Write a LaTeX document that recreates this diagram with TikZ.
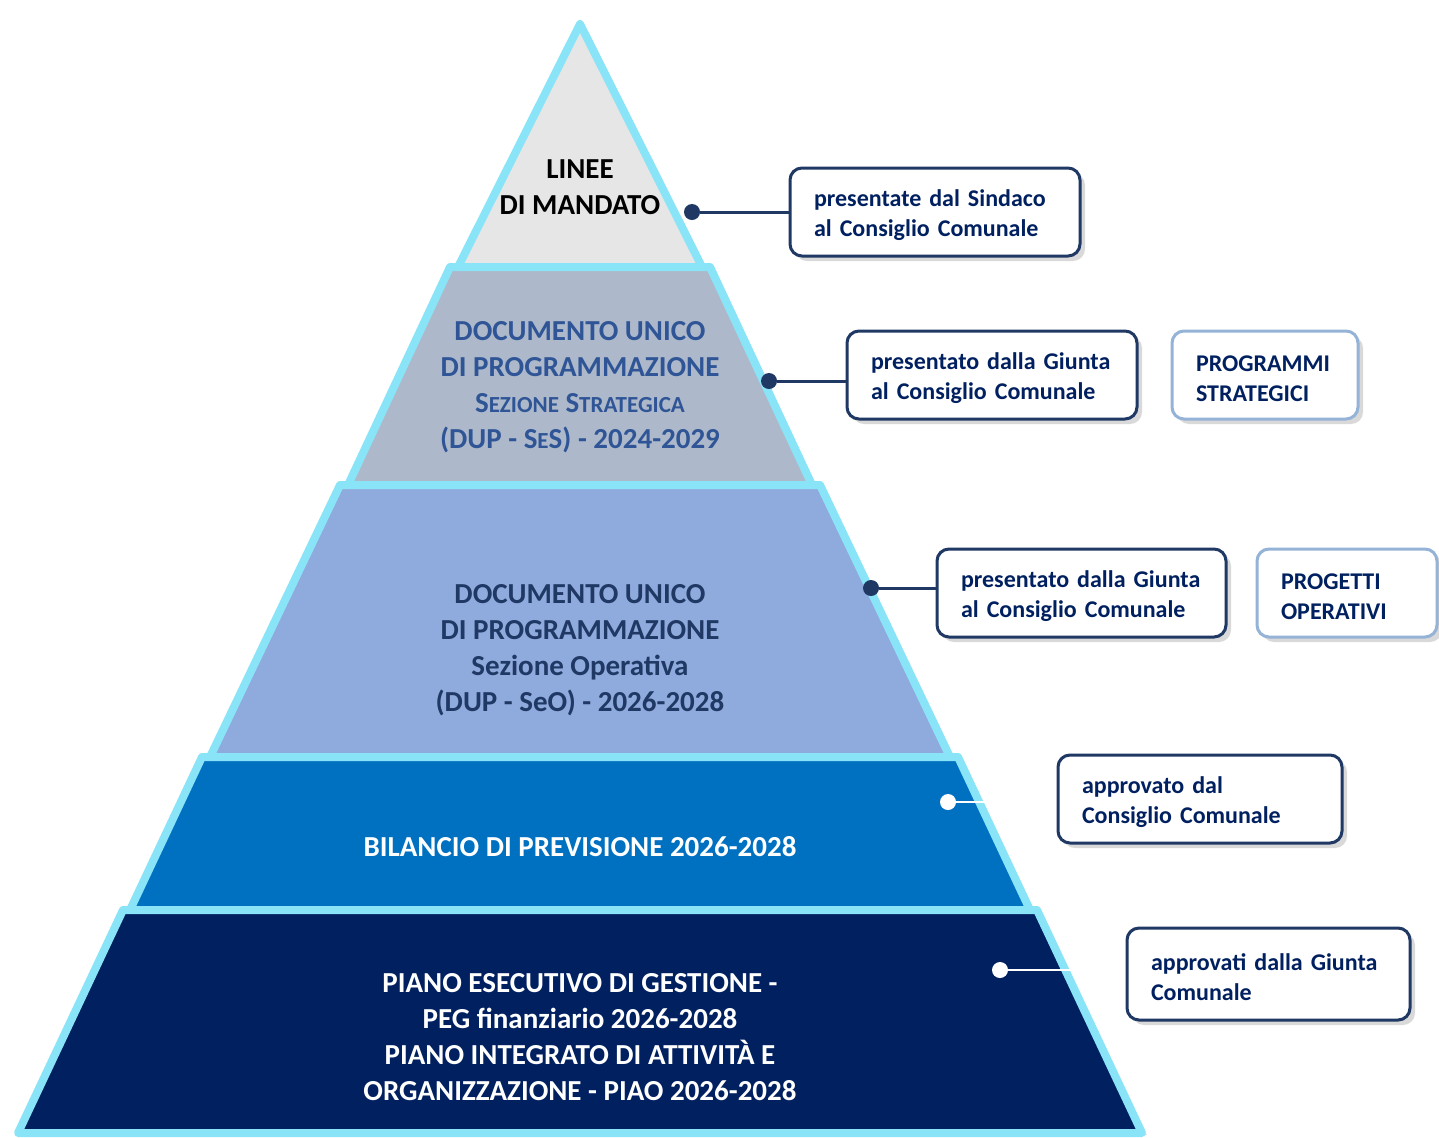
\documentclass[tikz,border=0pt]{standalone}
\usepackage{fontspec}
\setmainfont{Carlito}
\usetikzlibrary{positioning, shadows}

\definecolor{edgecyan}{HTML}{8AE4F7}
\definecolor{lvlone}{HTML}{E7E6E6}
\definecolor{lvltwo}{HTML}{ADB9CA}
\definecolor{lvlthree}{HTML}{8FAADC}
\definecolor{lvlfour}{HTML}{0070C0}
\definecolor{lvlfive}{HTML}{002060}
\definecolor{sesblue}{HTML}{2F5597}
\definecolor{navy}{HTML}{1F3864}
\definecolor{calltext}{HTML}{002060}
\definecolor{tagedge}{HTML}{95B3D7}

% fake small caps for the SeS label
\newcommand{\smc}[1]{{\fontsize{11.5}{18}\selectfont #1}}

\begin{document}
\begin{tikzpicture}[
    x=0.5pt, y=-0.5pt,
    band/.style={
        draw=edgecyan,
        line width=4pt,
        line join=round,
        drop shadow={shadow xshift=2.5pt, shadow yshift=-1pt, opacity=0.22}
    },
    bandtext/.style={
        align=center,
        font=\fontsize{14.5}{18}\selectfont\bfseries
    },
    callout/.style={
        rectangle,
        rounded corners=6pt,
        draw=navy,
        line width=1.5pt,
        fill=white,
        align=left,
        inner xsep=12pt,
        minimum height=44pt,
        text height=11.8pt,
        text=calltext,
        font=\fontsize{12}{15}\selectfont\bfseries,
        drop shadow={shadow xshift=2.5pt, shadow yshift=-2.5pt, opacity=0.3}
    },
    tagbox/.style={callout, draw=tagedge},
    dot/.style={circle, fill=navy, inner sep=0pt, minimum size=8pt},
    wdot/.style={dot, fill=white},
    link/.style={draw=navy, line width=1.5pt},
    wlink/.style={draw=white, line width=1.2pt}
]
\useasboundingbox (0,0) rectangle (1439,1137);

% pyramid levels, top to bottom
\draw[band, fill=lvlone] (580,24) -- (702,267) -- (458,267) -- cycle;
\draw[band, fill=lvltwo] (450,267) -- (710,267) -- (812,485) -- (348,485) -- cycle;
\draw[band, fill=lvlthree] (340,485) -- (820,485) -- (950,757) -- (210,757) -- cycle;
\draw[band, fill=lvlfour] (202,757) -- (958,757) -- (1030,910) -- (130,910) -- cycle;
\draw[band, fill=lvlfive] (123,910) -- (1037,910) -- (1142,1133) -- (18,1133) -- cycle;

\node[bandtext] (linee) at (580,187) {LINEE\\DI MANDATO};
\node[bandtext, text=sesblue] (dupses) at (580,387)
    {DOCUMENTO UNICO\\DI PROGRAMMAZIONE\\S\smc{EZIONE} S\smc{TRATEGICA}\\(DUP - S\smc{E}S) - 2024-2029};
\node[bandtext, text=navy] (dupseo) at (580,650)
    {DOCUMENTO UNICO\\DI PROGRAMMAZIONE\\Sezione Operativa\\(DUP - SeO) - 2026-2028};
\node[bandtext, text=white] (bilancio) at (580,847) {BILANCIO DI PREVISIONE 2026-2028};
\node[bandtext, text=white] (peg) at (580,1037)
    {PIANO ESECUTIVO DI GESTIONE -\\PEG finanziario 2026-2028\\PIANO INTEGRATO DI ATTIVITÀ E\\ORGANIZZAZIONE - PIAO 2026-2028};

% side notes
\node[callout, text width=121pt] (sindaco) at (935,212) {presentate dal Sindaco\\al Consiglio Comunale};
\node[callout, text width=121pt] (giuntases) at (992,375) {presentato dalla Giunta\\al Consiglio Comunale};
\node[tagbox, text width=69pt, right=16pt of giuntases] (programmi) {PROGRAMMI\\STRATEGICI};
\node[callout, text width=120.5pt] (giuntaseo) at (1081.5,593) {presentato dalla Giunta\\al Consiglio Comunale};
\node[tagbox, text width=66pt, right=14pt of giuntaseo] (progetti) {PROGETTI\\OPERATIVI};
\node[callout, text width=118pt] (consiglio) at (1200,799) {approvato dal\\Consiglio Comunale};
\node[callout, text width=117.5pt, minimum height=46pt] (giunta) at (1268.5,974) {approvati dalla Giunta\\Comunale};

% connectors
\node[dot] (d1) at (692,212) {};
\node[dot] (d2) at (769,381) {};
\node[dot] (d3) at (871,588) {};
\node[wdot] (d4) at (948,802) {};
\node[wdot] (d5) at (1000,970) {};
\coordinate (e4) at (989,802);
\coordinate (e5) at (1074,970);

\draw[link] (d1) -- (sindaco);
\draw[link] (d2) -- (d2 -| giuntases.west);
\draw[link] (d3) -- (d3 -| giuntaseo.west);
\draw[wlink] (d4) -- (e4);
\draw[wlink] (d5) -- (e5);

\end{tikzpicture}
\end{document}
